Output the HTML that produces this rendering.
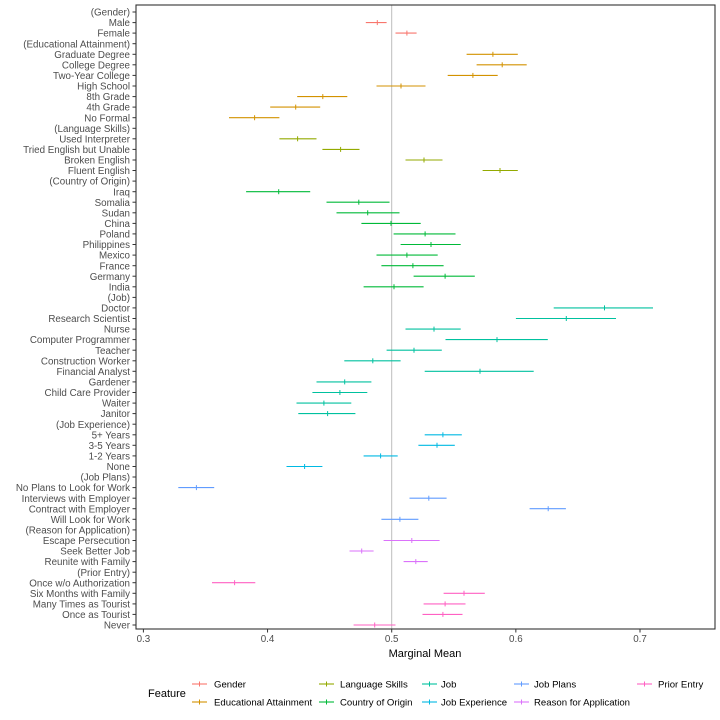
<!DOCTYPE html>
<html><head><meta charset="utf-8"><style>
html,body{margin:0;padding:0;background:#fff;}
svg{display:block;font-family:"Liberation Sans",Arial,sans-serif;}
</style></head><body>
<svg id="s" width="720" height="720" xmlns="http://www.w3.org/2000/svg"></svg>
<script>
var C={g:"#F8766D",e:"#D39200",l:"#93AA00",c:"#00BA38",j:"#00C19F",x:"#00B9E3",p:"#619CFF",r:"#DB72FB",o:"#FF61C3"};
var rows=[
["(Gender)"],["Male","g",620,651,676],["Female","g",700,731,757],
["(Educational Attainment)"],["Graduate Degree","e",892,963,1030],["College Degree","e",919,988,1054],["Two-Year College","e",841,909,976],["High School","e",649,715,781],["8th Grade","e",435,504,570],["4th Grade","e",362,431,497],["No Formal","e",251,320,387],
["(Language Skills)"],["Used Interpreter","l",387,436,487],["Tried English but Unable","l",503,552,603],["Broken English","l",727,777,827],["Fluent English","l",935,982,1030],
["(Country of Origin)"],["Iraq","c",297,385,470],["Somalia","c",514,601,684],["Sudan","c",541,625,711],["China","c",608,688,768],["Poland","c",695,780,862],["Philippines","c",714,796,876],["Mexico","c",649,731,814],["France","c",662,747,830],["Germany","c",749,834,914],["India","c",614,696,776],
["(Job)"],["Doctor","j",1127,1264,1395],["Research Scientist","j",1025,1161,1295],["Nurse","j",727,804,876],["Computer Programmer","j",835,974,1111],["Teacher","j",676,750,825],["Construction Worker","j",562,639,714],["Financial Analyst","j",779,928,1073],["Gardener","j",487,563,635],["Child Care Provider","j",476,550,624],["Waiter","j",433,507,581],["Janitor","j",438,517,592],
["(Job Experience)"],["5+ Years","x",779,828,879],["3-5 Years","x",762,812,860],["1-2 Years","x",614,660,706],["None","x",406,455,503],
["(Job Plans)"],["No Plans to Look for Work","p",114,163,211],["Interviews with Employer","p",738,790,838],["Contract with Employer","p",1062,1112,1160],["Will Look for Work","p",662,712,762],
["(Reason for Application)"],["Escape Persecution","r",668,744,819],["Seek Better Job","r",576,609,641],["Reunite with Family","r",722,755,787],
["(Prior Entry)"],["Once w/o Authorization","o",205,266,322],["Six Months with Family","o",830,885,941],["Many Times as Tourist","o",776,834,889],["Once as Tourist","o",773,828,881],["Never","o",587,644,700]];
function X(z){return 136+z/2.698;}
var h='';
h+='<line x1="391.7" y1="5" x2="391.7" y2="629" stroke="#bdbdbd" stroke-width="1"/>';
for(var i=0;i<rows.length;i++){
 var y=12+i*10.569,r=rows[i];
 h+='<text x="130" y="'+(y+3.6).toFixed(1)+'" text-anchor="end" font-size="9.8" fill="#4d4d4d">'+r[0].replace(/&/g,"&amp;")+'</text>';
 h+='<line x1="132.5" x2="136" y1="'+y.toFixed(1)+'" y2="'+y.toFixed(1)+'" stroke="#333" stroke-width="1"/>';
 if(r.length>1){var c=C[r[1]];
  h+='<line x1="'+X(r[2]).toFixed(1)+'" x2="'+X(r[4]).toFixed(1)+'" y1="'+y.toFixed(1)+'" y2="'+y.toFixed(1)+'" stroke="'+c+'" stroke-width="1.1"/>';
  h+='<line x1="'+X(r[3]).toFixed(1)+'" x2="'+X(r[3]).toFixed(1)+'" y1="'+(y-2.5).toFixed(1)+'" y2="'+(y+2.5).toFixed(1)+'" stroke="'+c+'" stroke-width="1"/>';}
}
h+='<rect x="136" y="5" width="579" height="624" fill="none" stroke="#333" stroke-width="1.1"/>';
var tk=[0.3,0.4,0.5,0.6,0.7];
for(var k=0;k<5;k++){var tx=143.4+k*124.15;
 h+='<line x1="'+tx+'" x2="'+tx+'" y1="629" y2="632.5" stroke="#333"/>';
 h+='<text x="'+tx+'" y="642" text-anchor="middle" font-size="9.8" fill="#4d4d4d">'+tk[k]+'</text>';}
h+='<text x="425" y="657" text-anchor="middle" font-size="11" fill="#000">Marginal Mean</text>';
h+='<text x="148" y="697" font-size="11" fill="#000">Feature</text>';
var L=[[192,214,684,"Gender","g"],[192,214,702,"Educational Attainment","e"],[319,340,684,"Language Skills","l"],[319,340,702,"Country of Origin","c"],[422,441,684,"Job","j"],[422,441,702,"Job Experience","x"],[514,534,684,"Job Plans","p"],[514,534,702,"Reason for Application","r"],[637,658,684,"Prior Entry","o"]];
for(var m=0;m<L.length;m++){var a=L[m],c=C[a[4]];
 h+='<line x1="'+a[0]+'" x2="'+(a[0]+15)+'" y1="'+a[2]+'" y2="'+a[2]+'" stroke="'+c+'" stroke-width="1.1"/>';
 h+='<line x1="'+(a[0]+7.5)+'" x2="'+(a[0]+7.5)+'" y1="'+(a[2]-2.5)+'" y2="'+(a[2]+2.5)+'" stroke="'+c+'"/>';
 h+='<text x="'+a[1]+'" y="'+(a[2]+3.5)+'" font-size="9.6" fill="#000">'+a[3]+'</text>';}
document.getElementById('s').innerHTML=h;
</script>
</body></html>
